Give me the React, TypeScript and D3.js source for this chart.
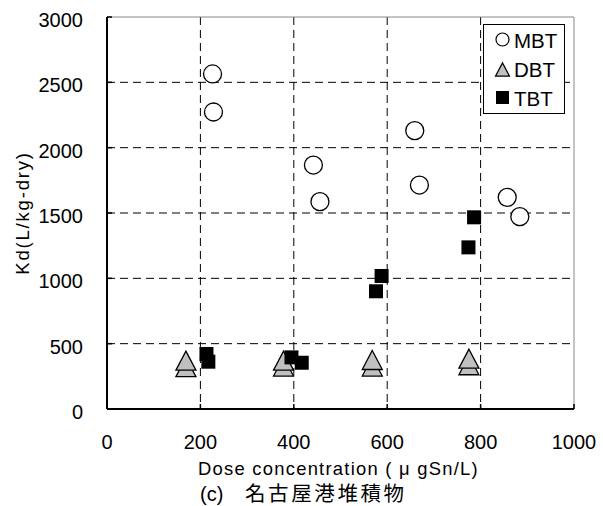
import React from "react";
import * as d3 from "d3";

const W = 603;
const H = 506;

const xTicks = [0, 200, 400, 600, 800, 1000];
const yTicks = [0, 500, 1000, 1500, 2000, 2500, 3000];

const mbtX = [226, 228, 442, 456, 659, 669, 857, 884];
const mbtY = [2564, 2273, 1867, 1587, 2130, 1714, 1620, 1472];

const dbtX = [169, 169, 378, 378, 568, 568, 775, 775];
const dbtY = [320, 370, 325, 370, 325, 375, 335, 385];

const tbtX = [213, 217, 395, 417, 576, 588, 774, 786];
const tbtY = [421, 362, 395, 354, 901, 1018, 1237, 1467];

const legendLabels = ["MBT", "DBT", "TBT"];

const xLabel = "Dose concentration ( μ gSn/L)";
const yLabel = "Kd(L/kg-dry)";
const captionPrefix = "(c)";
const captionText = "名古屋港堆積物";

const FONT = "'Liberation Sans', Arial, sans-serif";
const CJK = "'Noto Sans CJK JP', 'Liberation Sans', sans-serif";

export default function App() {
  const left = 107, right = 574, top = 17, bottom = 409;
  const x = d3.scaleLinear().domain([0, 1000]).range([left, right]);
  const y = d3.scaleLinear().domain([0, 3000]).range([bottom, top]);

  const tri = (cx: number, cy: number, s: number) => {
    const h = s * 0.95;
    return `M${cx},${cy - h / 2}L${cx + s / 2},${cy + h / 2}L${cx - s / 2},${cy + h / 2}Z`;
  };

  const fs = 20;

  return (
    <svg
      width={W}
      height={H}
      style={{ position: "absolute", left: 0, top: 0, background: "#fff" }}
      fontFamily={FONT}
    >
      <rect x={0} y={0} width={W} height={H} fill="#fff" />
      {/* grid */}
      {xTicks.filter((t) => t > 0 && t < 1000).map((t) => (
        <line key={"gx" + t} x1={x(t)} x2={x(t)} y1={top} y2={bottom} stroke="#000" strokeWidth={1} strokeDasharray="8,5" />
      ))}
      {yTicks.filter((t) => t > 0 && t < 3000).map((t) => (
        <line key={"gy" + t} x1={left} x2={right} y1={y(t)} y2={y(t)} stroke="#000" strokeWidth={1} strokeDasharray="8,5" />
      ))}
      {/* frame */}
      <line x1={left} x2={right} y1={top} y2={top} stroke="#888" strokeWidth={1} />
      <line x1={right} x2={right} y1={top} y2={bottom} stroke="#888" strokeWidth={1} />
      {/* ticks */}
      {xTicks.map((t) => (
        <line key={"tx" + t} x1={x(t)} x2={x(t)} y1={bottom} y2={bottom - 5} stroke="#000" strokeWidth={1.5} />
      ))}
      {yTicks.map((t) => (
        <line key={"ty" + t} x1={left} x2={left + 5} y1={y(t)} y2={y(t)} stroke="#000" strokeWidth={1.5} />
      ))}
      <line x1={left} x2={right} y1={bottom} y2={bottom} stroke="#000" strokeWidth={2} />
      <line x1={left} x2={left} y1={top} y2={bottom} stroke="#000" strokeWidth={2} />

      {/* tick labels */}
      {yTicks.map((t) => (
        <text key={"ly" + t} x={83} y={y(t) + 3} textAnchor="end" dominantBaseline="central" fontSize={fs} fill="#000">
          {t}
        </text>
      ))}
      {xTicks.map((t) => (
        <text key={"lx" + t} x={x(t)} y={449} textAnchor="middle" fontSize={fs} fill="#000">
          {t}
        </text>
      ))}

      {/* axis labels */}
      <text x={(left + right) / 2 - 2} y={474.5} textAnchor="middle" fontSize={18.4} letterSpacing={1.25} fill="#000">
        {xLabel}
      </text>
      <text
        transform={`translate(29,${(top + bottom) / 2}) rotate(-90)`}
        textAnchor="middle"
        fontSize={18.5}
        letterSpacing={1.8}
        fill="#000"
      >
        {yLabel}
      </text>
      <text x={200} y={501} fontSize={20} fill="#000">
        {captionPrefix}
      </text>
      <text x={245} y={501} fontSize={20.5} letterSpacing={2.6} fill="#000" fontFamily={CJK}>
        {captionText}
      </text>

      {/* data: DBT */}
      {dbtX.map((v, i) => (
        <path key={"d" + i} d={tri(x(v), y(dbtY[i]), 20)} fill="#c0c0c0" stroke="#000" strokeWidth={1.3} />
      ))}
      {/* TBT */}
      {tbtX.map((v, i) => (
        <rect key={"t" + i} x={x(v) - 7} y={y(tbtY[i]) - 7} width={14} height={14} fill="#000" />
      ))}
      {/* MBT */}
      {mbtX.map((v, i) => (
        <circle key={"m" + i} cx={x(v)} cy={y(mbtY[i])} r={9} fill="#fff" stroke="#000" strokeWidth={1.3} />
      ))}

      {/* legend */}
      <g>
        <rect x={483.5} y={24.5} width={81} height={89} fill="#fff" stroke="#000" strokeWidth={1} />
        {legendLabels.map((lab, i) => {
          const cy = 39.5 + i * 29;
          const cx = 502.5;
          return (
            <g key={lab}>
              {i === 0 && <circle cx={cx} cy={cy} r={6.5} fill="#fff" stroke="#000" strokeWidth={1.2} />}
              {i === 1 && <path d={tri(cx, cy + 1, 14)} fill="#c0c0c0" stroke="#000" strokeWidth={1.2} />}
              {i === 2 && <rect x={cx - 6.5} y={cy - 6.5} width={13} height={13} fill="#000" />}
              <text x={514} y={cy + 1} dominantBaseline="central" fontSize={20.5} fill="#000">
                {lab}
              </text>
            </g>
          );
        })}
      </g>
    </svg>
  );
}
